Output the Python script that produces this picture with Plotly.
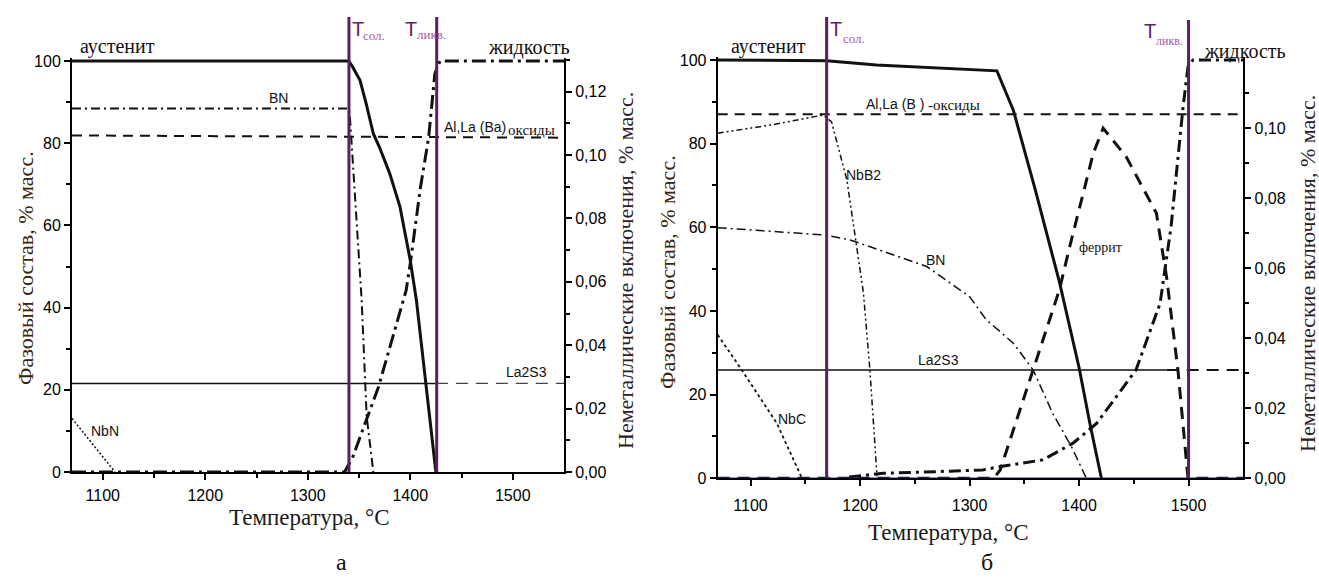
import plotly.graph_objects as go

W, H = 1319, 581
def PX(p): return p / W
def PY(p): return 1 - p / H

# ---------------- Panel a data ----------------
T_sol_a, T_liq_a = 1340.2, 1425.8
aust_a_T = [1070, 1340, 1344, 1351, 1357, 1364, 1370, 1380, 1390, 1400, 1406, 1415, 1425]
aust_a   = [100, 100, 98.5, 95.3, 89.6, 82.3, 79, 72.6, 64.5, 51.5, 41.8, 21.5, 0]
liq_a_T  = [1070, 1336, 1344, 1369, 1396, 1400, 1410, 1418, 1424, 1429, 1550]
liq_a    = [0, 0, 3.7, 20.7, 44.2, 50.7, 69.3, 81.5, 96.9, 100, 100]
bn_a_T   = [1070, 1340, 1341, 1352.6, 1357.5, 1364]
bn_a     = [0.1147, 0.1147, 0.1128, 0.0542, 0.0174, 0.0]
ox_a_T   = [1070, 1550]
ox_a     = [0.1062, 0.1055]
la_a_T_solid = [1070, 1425]
la_a_T_dash  = [1425, 1550]
la_a     = 0.02795
nbn_a_T  = [1070, 1112]
nbn_a    = [0.0169, 0.0]

# ---------------- Panel b data ----------------
T_sol_b, T_liq_b = 1169.5, 1500
aust_b_T = [1070, 1169.5, 1215, 1318.5, 1325, 1340, 1360, 1382, 1392, 1400, 1410, 1416, 1420.4]
aust_b   = [100, 99.8, 98.8, 97.6, 97.4, 88, 69, 47, 36, 26.5, 13, 5.5, 0]
fer_b_T  = [1070, 1322, 1328, 1340, 1358, 1382, 1391.5, 1413, 1422, 1443, 1470.6, 1480, 1490.3, 1495, 1499.5, 1550]
fer_b    = [0, 0, 2, 11.5, 25.9, 45, 55.4, 77.7, 83.7, 76.9, 63.4, 48, 25.9, 13.1, 0, 0]
liq_b_T  = [1190, 1221, 1270, 1312, 1328, 1367, 1394.5, 1416, 1452, 1474, 1484, 1492, 1495, 1499.5, 1504, 1550]
liq_b    = [0.3, 1.2, 1.6, 2, 2.8, 4.4, 8.4, 13.1, 25.9, 41.8, 60.1, 80.9, 88.8, 98.4, 100, 100]
ox_b_T   = [1070, 1550]
ox_b     = [0.1040, 0.1040]
nbb2_b_T = [1070, 1120, 1166.5, 1174, 1188, 1203, 1209, 1213.5, 1215.5]
nbb2_b   = [0.0986, 0.1010, 0.1038, 0.1018, 0.0852, 0.0532, 0.0310, 0.0081, 0.0006]
bn_b_T   = [1070, 1168, 1191, 1225, 1261, 1300, 1315, 1340, 1358, 1376, 1393, 1406.7]
bn_b     = [0.0716, 0.0695, 0.0681, 0.0645, 0.0605, 0.0519, 0.0454, 0.0386, 0.0310, 0.0185, 0.0091, 0.0]
la_b_T_solid = [1070, 1480]
la_b_T_dash  = [1480, 1550]
la_b     = 0.03095
nbc_b_T  = [1070, 1091, 1124, 1147]
nbc_b    = [0.0410, 0.0314, 0.0157, 0.0]
zero_b_T = [1070, 1550]

x_ticks = [1100, 1200, 1300, 1400, 1500]
yl_ticks = [0, 20, 40, 60, 80, 100]
yr_a_ticks = [0, 0.02, 0.04, 0.06, 0.08, 0.10, 0.12]
yr_b_ticks = [0, 0.02, 0.04, 0.06, 0.08, 0.10]
yr_a_labels = ["0,00", "0,02", "0,04", "0,06", "0,08", "0,10", "0,12"]
yr_b_labels = ["0,00", "0,02", "0,04", "0,06", "0,08", "0,10"]

BLACK = "#111111"
PURPLE = "#5b1f5f"

fig = go.Figure()

def line(x, y, xa, ya, width, dash="solid", color=BLACK):
    fig.add_trace(go.Scatter(x=x, y=y, xaxis=xa, yaxis=ya, mode="lines",
                             line=dict(color=color, width=width, dash=dash),
                             showlegend=False, hoverinfo="skip"))

# panel a
line(aust_a_T, aust_a, "x", "y", 3)
line(liq_a_T, liq_a, "x", "y", 3, "14px,5px,3px,5px")
line(bn_a_T, bn_a, "x", "y2", 2, "9px,4px,2px,4px")
line(ox_a_T, ox_a, "x", "y2", 2, "10px,7px")
line(la_a_T_solid, [la_a, la_a], "x", "y2", 1.5)
line(la_a_T_dash, [la_a, la_a], "x", "y2", 1.2, "12px,8px", "#444444")
line(nbn_a_T, nbn_a, "x", "y2", 1.5, "2px,2px")

# panel b
line(zero_b_T, [0, 0], "x2", "y4", 1.5, "solid", "#2a2a8a")
line(aust_b_T, aust_b, "x2", "y3", 3)
line(fer_b_T, fer_b, "x2", "y3", 3, "12px,8px")
line(liq_b_T, liq_b, "x2", "y3", 3, "12px,5px,3px,5px")
line(ox_b_T, ox_b, "x2", "y4", 2, "10px,7px")
line(nbb2_b_T, nbb2_b, "x2", "y4", 1.5, "6px,3px,2px,3px,2px,3px")
line(bn_b_T, bn_b, "x2", "y4", 1.5, "9px,4px,2px,4px")
line(la_b_T_solid, [la_b, la_b], "x2", "y4", 1.5)
line(la_b_T_dash, [la_b, la_b], "x2", "y4", 2, "12px,8px")
line(nbc_b_T, nbc_b, "x2", "y4", 1.8, "3px,3px")

tickfont = dict(family="Liberation Sans, Arial", size=16, color="black")

def xaxis(domain, anchor, standoff):
    return dict(domain=domain, anchor=anchor, range=[1070, 1550], tickvals=x_ticks,
                ticks="outside", ticklen=6, tickwidth=1.5, tickcolor="black",
                showline=True, linewidth=2, linecolor="black", showgrid=False,
                zeroline=False, tickfont=tickfont, ticklabelstandoff=standoff,
                minor=dict(tickvals=[1150, 1250, 1350, 1450], ticks="outside",
                           ticklen=4, tickcolor="black", tickwidth=1.5),
                automargin=False)

def yaxis_left(domain, anchor, top):
    return dict(domain=domain, anchor=anchor, range=[0, top], tickvals=yl_ticks,
                ticks="outside", ticklen=6, tickwidth=1.5, tickcolor="black",
                showline=True, linewidth=2, linecolor="black", showgrid=False,
                zeroline=False, tickfont=tickfont,
                minor=dict(tickvals=[10, 30, 50, 70, 90], ticks="outside",
                           ticklen=4, tickcolor="black", tickwidth=1.5),
                automargin=False)

def yaxis_right(overlay, anchor, top, vals, labels, minors):
    return dict(overlaying=overlay, anchor=anchor, side="right", range=[0, top],
                tickvals=vals, ticktext=labels,
                ticks="outside", ticklen=6, tickwidth=1.5, tickcolor="black",
                showline=True, linewidth=2, linecolor="black", showgrid=False,
                zeroline=False, tickfont=tickfont,
                minor=dict(tickvals=minors, ticks="outside",
                           ticklen=4, tickcolor="black", tickwidth=1.5),
                automargin=False)

TOP = 100.8
fig.update_layout(
    width=W, height=H, margin=dict(l=0, r=0, t=0, b=0),
    paper_bgcolor="white", plot_bgcolor="white", showlegend=False,
    xaxis=xaxis([PX(72), PX(564)], "y", 2),
    yaxis=yaxis_left([PY(472), PY(472 - TOP * 4.11)], "x", TOP),
    yaxis2=yaxis_right("y", "x", 0.1297 * TOP / 100, yr_a_ticks, yr_a_labels,
                       [0.01, 0.03, 0.05, 0.07, 0.09, 0.11, 0.13]),
    xaxis2=xaxis([PX(717.7), PX(1243.3)], "y3", 5),
    yaxis3=yaxis_left([PY(478.3), PY(478.3 - TOP * 4.183)], "x2", TOP),
    yaxis4=yaxis_right("y3", "x2", 0.1195 * TOP / 100, yr_b_ticks, yr_b_labels,
                       [0.01, 0.03, 0.05, 0.07, 0.09, 0.11]),
)

# solidus / liquidus vertical lines
for xr, tx, ybot, ytop in [("x", T_sol_a, 472, 17), ("x", T_liq_a, 472, 17),
                           ("x2", T_sol_b, 478.3, 17), ("x2", T_liq_b, 478.3, 20)]:
    fig.add_shape(type="line", xref=xr, yref="paper", x0=tx, x1=tx,
                  y0=PY(ybot), y1=PY(ytop), line=dict(color=PURPLE, width=3))

SERIF = "Liberation Serif, Times New Roman"
SANS = "Liberation Sans, Arial"

def lab(text, x, y, fam=SANS, size=14, color=BLACK, xanchor="left", angle=0):
    fig.add_annotation(text=text, x=PX(x), y=PY(y), xref="paper", yref="paper",
                       xanchor=xanchor, yanchor="middle", showarrow=False,
                       textangle=angle, font=dict(family=fam, size=size, color=color))

# panel a labels
lab("аустенит", 78, 46, SERIF, 20)
lab("BN", 267, 98)
lab("жидкость", 486, 48, SERIF, 20)
lab("Al,La (Ba)", 442, 127)
lab("оксиды", 506, 130, SERIF, 15)
lab("La2S3", 504, 372)
lab("NbN", 89, 431)
lab("T", 350, 29, SANS, 20, "#5e2462")
lab("сол.", 361, 36, SERIF, 13, "#a05aa8")
lab("T", 403, 29, SANS, 20, "#5e2462")
lab("ликв.", 415, 35, SERIF, 13, "#a05aa8")
lab("Температура, °C", 309, 517, SERIF, 23, "#1a1a1a", "center")
lab("Фазовый состав, % масс.", 25, 268, SERIF, 22, "#3a2510", "center", -90)
lab("Неметаллические включения, % масс.", 625, 271, SERIF, 22, "#2b2028", "center", -90)
lab("а", 341, 562, SERIF, 24, "#111111", "center")

# panel b labels
lab("аустенит", 729, 47, SERIF, 20)
lab("T", 828, 29, SANS, 20, "#5e2462")
lab("сол.", 841, 38, SERIF, 13, "#a05aa8")
lab("Al,La (B )", 864, 104)
lab("-оксиды", 926, 105, SERIF, 15)
lab("NbB2", 844, 175)
lab("BN", 924, 260)
lab("La2S3", 916, 360)
lab("NbC", 776, 419)
lab("феррит", 1077, 248, SERIF, 14)
lab("T", 1142, 31, SANS, 20, "#5e2462")
lab("ликв.", 1154, 41, SERIF, 12, "#a05aa8")
lab("жидкость", 1202, 51, SERIF, 20)
lab("Температура, °C", 948, 532, SERIF, 23, "#1a1a1a", "center")
lab("Фазовый состав, % масс.", 667, 272, SERIF, 22, "#3a2510", "center", -90)
lab("Неметаллические включения, % масс.", 1308, 274, SERIF, 22, "#2b2028", "center", -90)
lab("б", 987, 562, SERIF, 24, "#111111", "center")

fig.write_html("out.html")
